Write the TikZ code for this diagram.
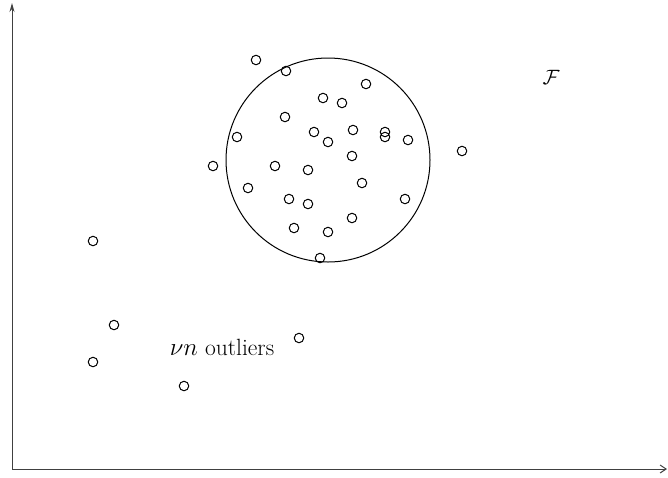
\documentclass[tikz,border=0pt]{standalone}
\usetikzlibrary{arrows.meta}
\begin{document}
\begin{tikzpicture}[x=1pt,y=-1pt,
  pt/.style={circle,draw,line width=1pt,minimum size=9.5pt,inner sep=0pt},
  axis/.style={line width=1pt,draw=black!75},
  lbl/.style={font=\fontsize{23.5}{28}\selectfont,inner sep=0pt}]
\useasboundingbox (0,0) rectangle (668,477);
% axes
\coordinate (o) at (12,469);
\coordinate (ytop) at (12,3);
\coordinate (xend) at (667,469);
\draw[axis,-{Stealth[length=9pt,width=5pt]}] (o) -- (ytop);
\draw[axis,-{Straight Barb[length=6pt,width=8pt]}] (o) -- (xend);
% the set
\node[circle,draw,line width=1pt,minimum size=204pt,inner sep=0pt] (F) at (328,160) {};
\node[lbl,font=\fontsize{20}{24}\selectfont] (Flbl) at (551,77) {$\mathcal{F}$};
% points
\foreach \x/\y [count=\i] in {256/60,286/71,366/84,323/98,342/103,285/117,237/137,314/132,353/130,385/132,385/137,408/140,328/142,462/151,352/156,213/166,275/166,308/170,362/183,248/188,289/199,308/204,405/199,352/218,294/228,328/232,320/258,93/241,114/325,299/338,93/362,184/386}
  \node[pt] (p\i) at (\x,\y) {};
\node[lbl] (out) at (222,347) {$\nu n$ outliers};
\end{tikzpicture}
\end{document}
